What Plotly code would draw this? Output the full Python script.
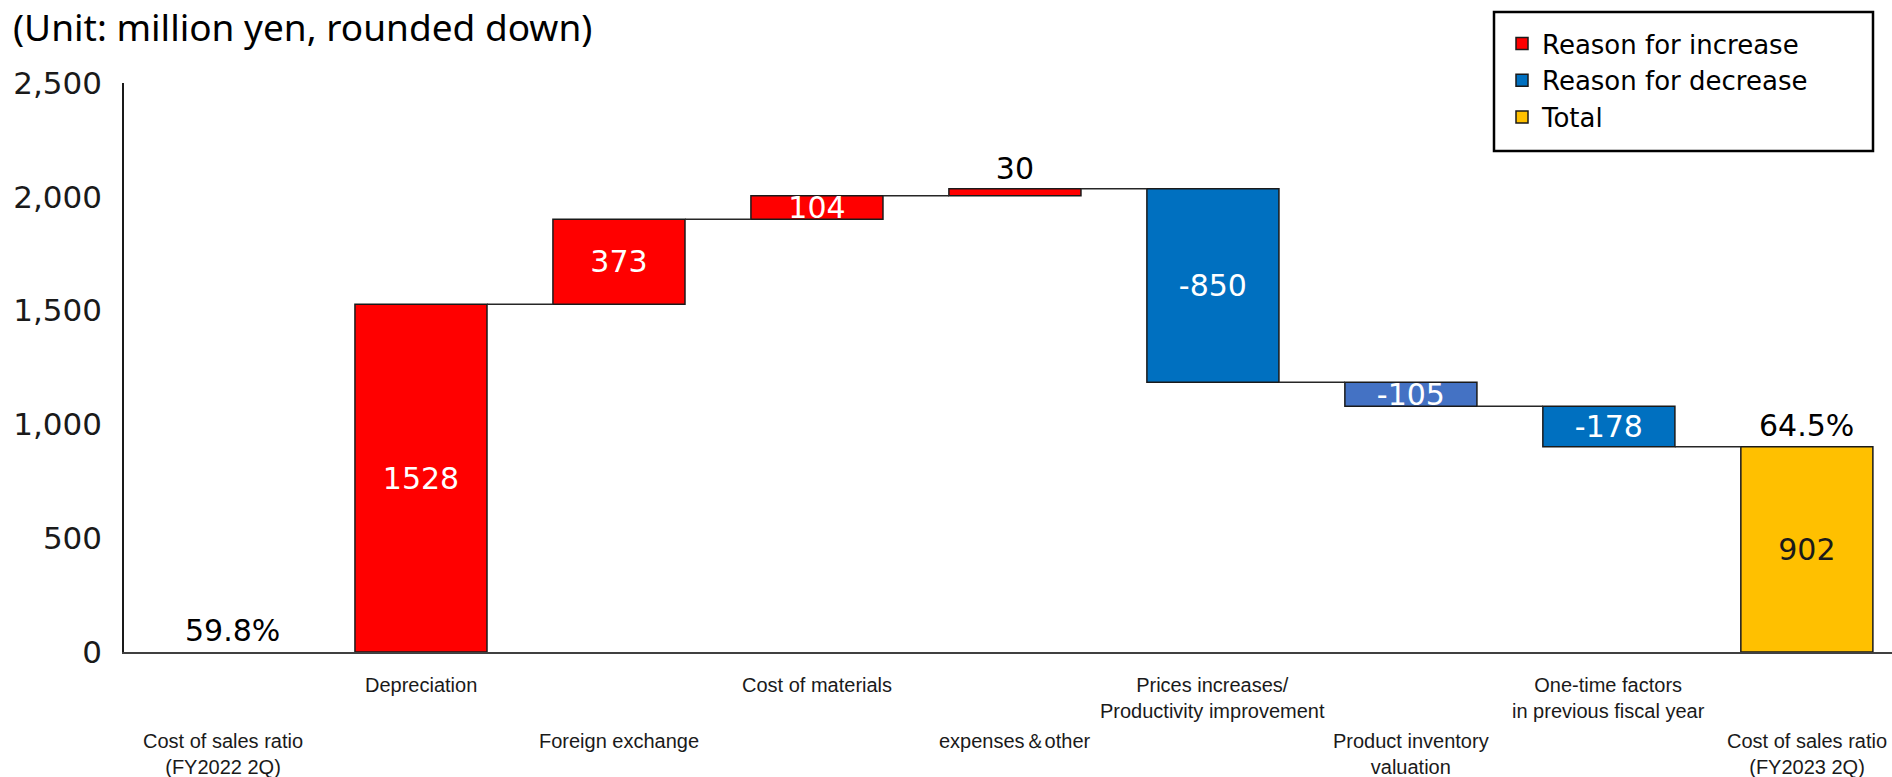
import plotly.graph_objects as go

# Cost-of-sales ratio bridge, FY2022 2Q -> FY2023 2Q (million yen)
categories = [
    "Cost of sales ratio<br>(FY2022 2Q)",
    "Depreciation",
    "Foreign exchange",
    "Cost of materials",
    "expenses＆other",
    "Prices increases/<br>Productivity improvement",
    "Product inventory<br>valuation",
    "One-time factors<br>in previous fiscal year",
    "Cost of sales ratio<br>(FY2023 2Q)",
]
start_total = 0
changes = [1528, 373, 104, 30, -850, -105, -178]
end_total = 902
ratio_labels = ["59.8%", "64.5%"]
y_ticks = [0, 500, 1000, 1500, 2000, 2500]

RED = "#FF0000"
BLUE = "#0070C0"
BLUE_LIGHT = "#4472C4"
GOLD = "#FFC000"
BAR_W = 0.667
NUM_FONT = "DejaVu Sans"
CAT_FONT = "Liberation Sans Narrow, Liberation Sans, sans-serif"

# plot-area geometry in pixels (used for paper-coordinate placement)
PLOT_L, PLOT_R, PLOT_T, PLOT_B = 124, 1892, 83, 652
PW, PH = PLOT_R - PLOT_L, PLOT_B - PLOT_T


def px_x(px):
    return (px - PLOT_L) / PW


def px_y(py):
    return (PLOT_B - py) / PH


# running levels
levels = [start_total]
for c in changes:
    levels.append(levels[-1] + c)

inc_x, inc_base, inc_y, inc_txtpos, inc_txtcol = [], [], [], [], []
dec_x, dec_base, dec_y, dec_col = [], [], [], []
for i, c in enumerate(changes, start=1):
    if c >= 0:
        inc_x.append(i)
        inc_base.append(levels[i - 1])
        inc_y.append(c)
        small = c < 60
        inc_txtpos.append("outside" if small else "inside")
        inc_txtcol.append("black" if small else "white")
    else:
        dec_x.append(i)
        dec_base.append(levels[i - 1])
        dec_y.append(c)
        dec_col.append(BLUE_LIGHT if c == -105 else BLUE)

fig = go.Figure()

# connector lines between consecutive bars
cx, cy = [], []
for i in range(1, len(categories) - 1):
    lvl = levels[i]
    cx += [i + BAR_W / 2, i + 1 - BAR_W / 2, None]
    cy += [lvl, lvl, None]
fig.add_trace(go.Scatter(x=cx, y=cy, mode="lines", line=dict(color="#262626", width=1.5),
                         showlegend=False, hoverinfo="skip"))

outline = dict(color="#1a1a1a", width=1.5)
fig.add_trace(go.Bar(
    x=inc_x, y=inc_y, base=inc_base, width=BAR_W, name="Reason for increase",
    marker=dict(color=RED, line=outline),
    text=[str(v) for v in inc_y], textposition=inc_txtpos, textangle=0,
    insidetextanchor="middle",
    textfont=dict(family=NUM_FONT, size=30, color=inc_txtcol),
    cliponaxis=False,
))
fig.add_trace(go.Bar(
    x=dec_x, y=dec_y, base=dec_base, width=BAR_W, name="Reason for decrease",
    marker=dict(color=dec_col, line=outline),
    text=[str(v) for v in dec_y], textposition="inside", textangle=0,
    insidetextanchor="middle",
    textfont=dict(family=NUM_FONT, size=30, color="white"),
    cliponaxis=False,
))
fig.add_trace(go.Bar(
    x=[len(categories) - 1], y=[end_total], base=[0], width=BAR_W, name="Total",
    marker=dict(color=GOLD, line=outline),
    text=[str(end_total)], textposition="inside", textangle=0,
    insidetextanchor="middle",
    textfont=dict(family=NUM_FONT, size=30, color="#1a1a1a"),
    cliponaxis=False,
))

# ratio labels above the two totals
for xi, yv, lab, xs in [(0, start_total, ratio_labels[0], 10),
                        (len(categories) - 1, end_total, ratio_labels[1], 0)]:
    fig.add_annotation(x=xi, y=yv, text=lab, showarrow=False, yanchor="bottom",
                       xshift=xs, yshift=2, font=dict(family=NUM_FONT, size=30, color="black"))

# category labels in two staggered rows
for i, lab in enumerate(categories):
    shift = -20 if i % 2 == 1 else -76
    fig.add_annotation(x=i, y=0, text=lab, showarrow=False, yanchor="top", yshift=shift,
                       font=dict(family=CAT_FONT, size=20, color="#1a1a1a"))

# unit note in the top-left corner
fig.add_annotation(xref="paper", yref="paper", x=px_x(12), y=px_y(0),
                   xanchor="left", yanchor="top", showarrow=False, borderpad=0,
                   text="(Unit: million yen, rounded down)",
                   font=dict(family="Noto Sans", size=37, color="black"))

# legend frame
fig.add_shape(type="rect", xref="paper", yref="paper",
              x0=px_x(1494), x1=px_x(1873), y0=px_y(151), y1=px_y(12),
              line=dict(color="black", width=2.5), fillcolor="rgba(0,0,0,0)", layer="above")

fig.update_layout(
    width=1892, height=777, autosize=False,
    margin=dict(l=PLOT_L, r=1892 - PLOT_R, t=PLOT_T, b=777 - PLOT_B),
    plot_bgcolor="white", paper_bgcolor="white",
    barmode="overlay",
    uniformtext=dict(minsize=30, mode="show"),
    showlegend=True,
    legend=dict(x=px_x(1502), y=px_y(20), xanchor="left", yanchor="top",
                borderwidth=0, bgcolor="rgba(0,0,0,0)",
                font=dict(family=NUM_FONT, size=26, color="black"),
                traceorder="normal", tracegroupgap=0),
    xaxis=dict(range=[-0.5, 8.43], showticklabels=False, showgrid=False, zeroline=False,
               showline=True, linecolor="#404040", linewidth=2, ticks=""),
    yaxis=dict(range=[0, 2500], tickvals=y_ticks, tickformat=",", showgrid=False, zeroline=False,
               showline=True, linecolor="#1a1a1a", linewidth=1.5, ticks="",
               ticklabelstandoff=14,
               tickfont=dict(family=NUM_FONT, size=31, color="#1a1a1a")),
)

fig.write_html("out.html")
